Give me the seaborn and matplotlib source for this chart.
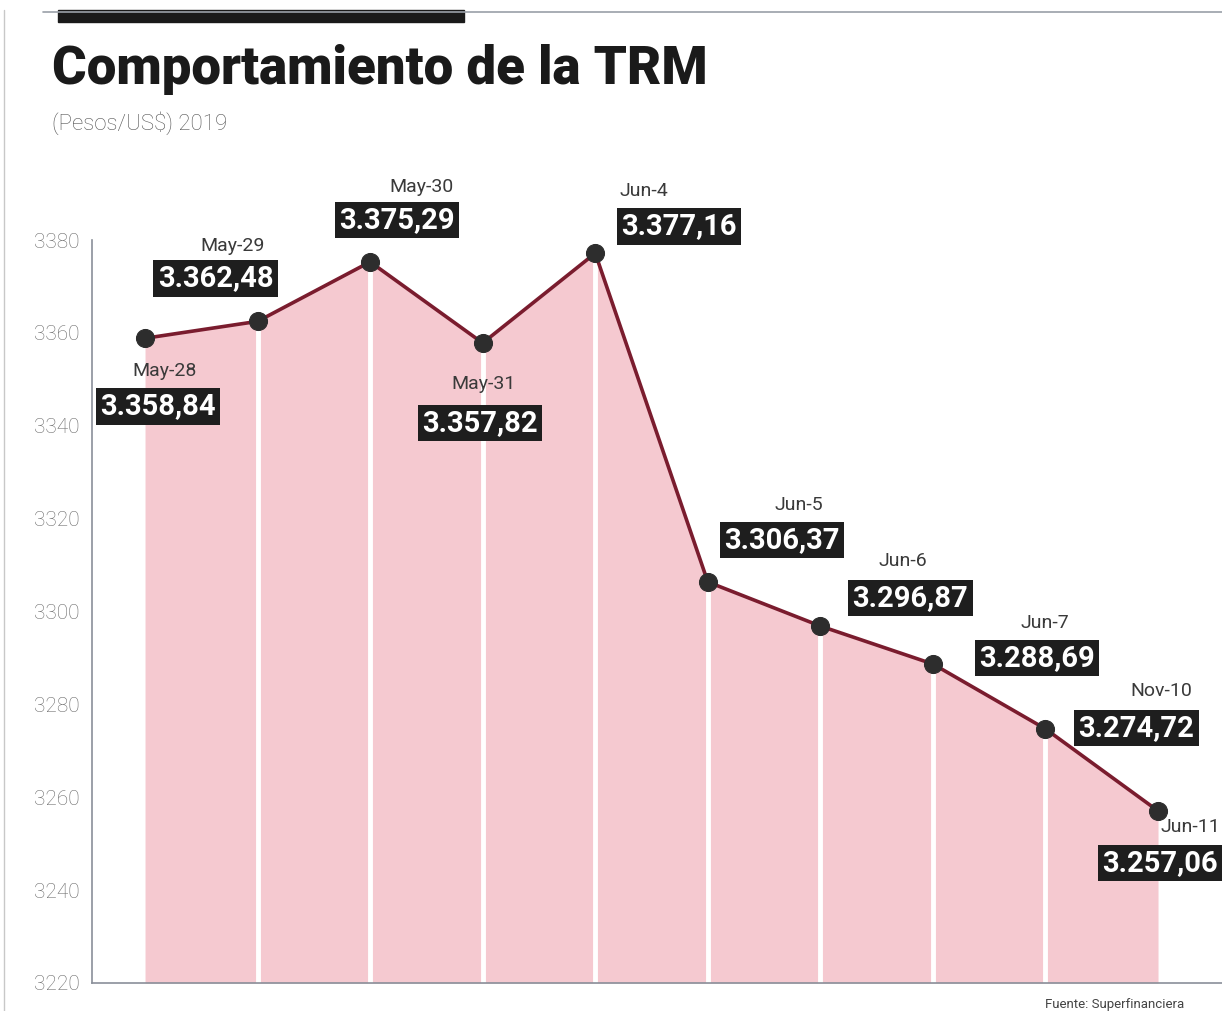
import numpy as np
import pandas as pd
import matplotlib.pyplot as plt
import seaborn as sns
from matplotlib.lines import Line2D
from matplotlib.patches import Rectangle

fechas = ["May-28", "May-29", "May-30", "May-31", "Jun-4",
          "Jun-5", "Jun-6", "Jun-7", "Nov-10", "Jun-11"]
trm = [3358.84, 3362.48, 3375.29, 3357.82, 3377.16,
       3306.37, 3296.87, 3288.69, 3274.72, 3257.06]
etiquetas = ["3.358,84", "3.362,48", "3.375,29", "3.357,82", "3.377,16",
             "3.306,37", "3.296,87", "3.288,69", "3.274,72", "3.257,06"]
yticks = [3220, 3240, 3260, 3280, 3300, 3320, 3340, 3360, 3380]

df = pd.DataFrame({"pos": np.arange(len(fechas)), "fecha": fechas, "trm": trm})

sns.set_style("white")
plt.rcParams["font.family"] = ["Roboto", "DejaVu Sans"]

fig = plt.figure(figsize=(12.22, 10.11), dpi=100)
ax = fig.add_axes([0.0753, 0.0277, 0.93, 0.7349])

base = 3220
ax.fill_between(df["pos"], df["trm"], base, color="#f5c9d0", lw=0, zorder=1)
ax.vlines(df["pos"][1:-1], base, df["trm"][1:-1], color="white", lw=3.5, zorder=2)

sns.lineplot(data=df, x="pos", y="trm", ax=ax, color="#7a1c2e", lw=2.6,
             marker="o", markersize=13, markerfacecolor="#2d2d2d",
             markeredgecolor="#2d2d2d", zorder=4, clip_on=False)

# offsets (pixels) for date label and value box
off_fecha = [(20, -33), (-25, 75), (51, 75), (1, -41), (49, 62),
             (91, 77), (83, 65), (112, 41), (116, 38), (32, -16)]
off_caja = [(13, -68), (-42, 43), (27, 42), (-3, -80), (84, 27),
            (74, 42), (90, 28), (104, 6), (91, 1), (2, -52)]

for i, row in df.iterrows():
    ax.annotate(row["fecha"], (row["pos"], row["trm"]), xytext=off_fecha[i],
                textcoords="offset pixels", ha="center", va="center",
                fontsize=14, color="#3a3a3a", zorder=6, annotation_clip=False)
    ax.annotate(etiquetas[i], (row["pos"], row["trm"]), xytext=off_caja[i],
                textcoords="offset pixels", ha="center", va="center",
                fontsize=21, fontweight="bold", color="white", zorder=6,
                annotation_clip=False,
                bbox=dict(boxstyle="square,pad=0.15", fc="#1e1e1e", ec="none"))

ax.set_xlim(-0.471, 9.626)
ax.set_ylim(3220, 3380)
ax.set_yticks(yticks)
ax.set_xticks([])
ax.set_xlabel("")
ax.set_ylabel("")
ax.tick_params(axis="y", direction="in", length=18, width=1, color="#8a8f99",
               labelsize=15, labelcolor="#6a6a6a", pad=9)
for lab in ax.get_yticklabels():
    lab.set_fontweight("light")
for s in ["top", "right"]:
    ax.spines[s].set_visible(False)
for s in ["left", "bottom"]:
    ax.spines[s].set_color("#8a8f99")
    ax.spines[s].set_linewidth(1.2)

# header
fig.add_artist(Line2D([0.035, 1.0], [0.988, 0.988], color="#9aa0a8", lw=1.2))
fig.add_artist(Rectangle((0.0475, 0.978), 0.332, 0.012, color="#1a1a1a"))
fig.add_artist(Line2D([0.003, 0.003], [0.0, 0.99], color="#c8c8c8", lw=1))

fig.text(0.0426, 0.931, "Comportamiento de la TRM", fontsize=38,
         fontweight="heavy", color="#1a1a1a", ha="left", va="center")
fig.text(0.0426, 0.878, r"(Pesos/US\$) 2019", fontsize=16, color="#555555",
         ha="left", va="center", fontweight="light")
fig.text(0.855, 0.006, "Fuente: Superfinanciera", fontsize=9.5, color="#444444",
         ha="left", va="center")

fig.savefig("out.png", dpi=100)
